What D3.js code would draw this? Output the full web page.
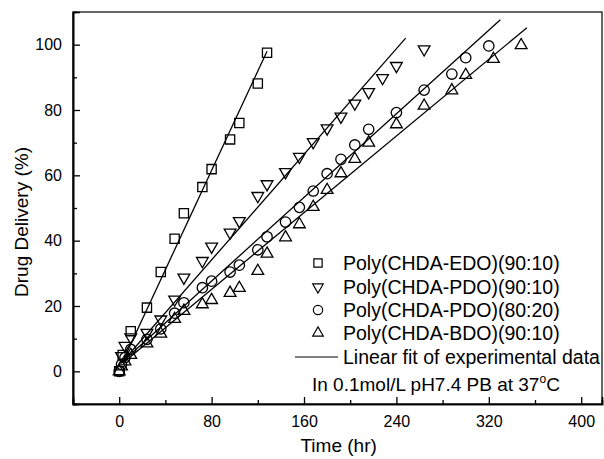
<!DOCTYPE html>
<html>
<head>
<meta charset="utf-8">
<script src="https://d3js.org/d3.v7.min.js"></script>
<style>
  body { margin: 0; background: #fff; }
  svg text { font-family: "Liberation Sans", Arial, sans-serif; fill: #000; }
</style>
</head>
<body>
<div id="chart"></div>
<script>
// ---- data ----
var timeEDO = [0, 3, 10, 24, 36, 48, 56, 72, 80, 96, 104, 120, 128];
var valEDO  = [0, 5, 12.3, 19.5, 30.4, 40.6, 48.4, 56.4, 61.9, 71, 76, 88.1, 97.5];

var timePDO90 = [2, 5, 10, 24, 36, 48, 56, 72, 80, 96, 104, 120, 128, 144, 156, 168, 180, 192, 204, 216, 228, 240, 264];
var valPDO90  = [4.7, 7.8, 10.4, 11.8, 15.9, 22, 28.7, 33.8, 38.2, 42.5, 46, 53.7, 57.3, 61, 65.7, 70.2, 74.4, 78, 82, 85.5, 89.8, 93.5, 98.6];

var timePDO80 = [0, 2, 5, 10, 24, 36, 48, 56, 72, 80, 96, 104, 120, 128, 144, 156, 168, 180, 192, 204, 216, 240, 264, 288, 300, 320];
var valPDO80  = [0, 2.1, 4.2, 6.7, 9.8, 13, 17.8, 21, 25.6, 27.6, 30.4, 32.5, 37.2, 41.2, 45.7, 50.2, 55.2, 60.5, 64.9, 69.3, 74.1, 79.2, 86.1, 91, 96, 99.6];

var timeBDO = [0, 2, 5, 10, 24, 36, 48, 56, 72, 80, 96, 104, 120, 128, 144, 156, 168, 180, 192, 204, 216, 240, 264, 288, 300, 324, 348];
var valBDO  = [0, 1.5, 3, 5, 8.5, 11.5, 16, 18.5, 20.5, 21.8, 24, 25.5, 30.7, 36, 41, 45, 50.3, 55.5, 60.6, 65, 70, 75.6, 81.3, 86, 90.7, 95.6, 99.8];

// linear fits, start and end points
var fitEDO   = [[3, 3], [128, 98]];
var fitPDO90 = [[3, 3], [248, 102]];
var fitPDO80 = [[3, 3], [330, 107.6]];
var fitBDO   = [[3, 2.5], [353, 105.2]];

var seriesNames = ["Poly(CHDA-EDO)(90:10)", "Poly(CHDA-PDO)(90:10)", "Poly(CHDA-PDO)(80:20)", "Poly(CHDA-BDO)(90:10)"];
var xTicks = [0, 80, 160, 240, 320, 400];
var yTicks = [0, 20, 40, 60, 80, 100];

var W = 604, H = 459;
var svg = d3.select("#chart").append("svg")
    .attr("width", W)
    .attr("height", H);

var x = d3.scaleLinear().domain([-40, 418]).range([73, 602]);
var y = d3.scaleLinear().domain([-10, 110]).range([404, 12]);

// frame
svg.append("rect")
    .attr("x", x(-40)).attr("y", y(110))
    .attr("width", x(418) - x(-40)).attr("height", y(-10) - y(110))
    .attr("fill", "none").attr("stroke", "#000").attr("stroke-width", 1.2);

// axes with inward ticks
var xMinor = d3.range(-40, 418, 40).filter(function(d){ return xTicks.indexOf(d) < 0; });
var yMinor = d3.range(-10, 110, 10).filter(function(d){ return yTicks.indexOf(d) < 0; });

svg.append("g").attr("transform", "translate(0," + y(-10) + ")")
    .call(d3.axisBottom(x).tickValues(xTicks).tickSize(-7).tickPadding(12).tickFormat(d3.format("d")));
svg.append("g").attr("transform", "translate(" + x(-40) + ",0)")
    .call(d3.axisLeft(y).tickValues(yTicks).tickSize(-7).tickPadding(11).tickFormat(d3.format("d")));

svg.append("g").attr("transform", "translate(0," + y(-10) + ")")
    .call(d3.axisBottom(x).tickValues(xMinor).tickSize(-4).tickFormat(""));
svg.append("g").attr("transform", "translate(" + x(-40) + ",0)")
    .call(d3.axisLeft(y).tickValues(yMinor).tickSize(-4).tickFormat(""));

svg.selectAll(".domain").attr("stroke-width", 1.6);
svg.selectAll(".tick line").attr("stroke-width", 1.3);
svg.selectAll(".tick text").attr("font-size", "16px")
    .style("font-family", "'Liberation Sans', Arial, sans-serif");

// axis titles
svg.append("text")
    .attr("x", x(190))
    .attr("y", 452)
    .attr("text-anchor", "middle")
    .attr("font-size", "19px")
    .text("Time (hr)");

svg.append("text")
    .attr("transform", "translate(28," + 222 + ") rotate(-90)")
    .attr("text-anchor", "middle")
    .attr("font-size", "19px")
    .text("Drug Delivery (%)");

// fit lines
var line = d3.line()
    .x(function(d){ return x(d[0]); })
    .y(function(d){ return y(d[1]); });

[fitEDO, fitPDO90, fitPDO80, fitBDO].forEach(function(f){
    svg.append("path")
        .attr("d", line(f))
        .attr("fill", "none")
        .attr("stroke", "#000")
        .attr("stroke-width", 1.3);
});

// markers
var shapes = [
    { type: d3.symbolSquare, size: 85, rot: 0 },
    { type: d3.symbolTriangle, size: 60, rot: 180 },
    { type: d3.symbolCircle, size: 85, rot: 0 },
    { type: d3.symbolTriangle, size: 60, rot: 0 }
];

function drawSeries(times, vals, shape){
    var pts = times.map(function(t, i){ return { t: t, v: vals[i] }; });
    svg.append("g").selectAll("path")
        .data(pts)
        .enter().append("path")
        .attr("d", d3.symbol().type(shape.type).size(shape.size))
        .attr("transform", function(d){
            return "translate(" + x(d.t) + "," + y(d.v) + ") rotate(" + shape.rot + ")";
        })
        .attr("fill", "none")
        .attr("stroke", "#000")
        .attr("stroke-width", 1.3);
}

drawSeries(timeEDO, valEDO, shapes[0]);
drawSeries(timePDO90, valPDO90, shapes[1]);
drawSeries(timePDO80, valPDO80, shapes[2]);
drawSeries(timeBDO, valBDO, shapes[3]);

// legend
var legend = svg.append("g");
var rowY = [263, 287, 310, 333];
seriesNames.forEach(function(name, i){
    legend.append("path")
        .attr("d", d3.symbol().type(shapes[i].type).size(shapes[i].size * 0.8))
        .attr("transform", "translate(318," + rowY[i] + ") rotate(" + shapes[i].rot + ")")
        .attr("fill", "none")
        .attr("stroke", "#000")
        .attr("stroke-width", 1.2);
    legend.append("text")
        .attr("x", 343)
        .attr("y", rowY[i])
        .attr("dy", "0.36em")
        .attr("font-size", "19.5px")
        .text(name);
});
legend.append("line")
    .attr("x1", 295).attr("x2", 338)
    .attr("y1", 357).attr("y2", 357)
    .attr("stroke", "#000").attr("stroke-width", 1.2);
legend.append("text")
    .attr("x", 343).attr("y", 357).attr("dy", "0.36em")
    .attr("font-size", "19.5px")
    .text("Linear fit of experimental data");

var note = svg.append("text")
    .attr("x", 312).attr("y", 384).attr("dy", "0.36em")
    .attr("font-size", "19px");
note.append("tspan").text("In 0.1mol/L pH7.4 PB at 37");
note.append("tspan").attr("font-size", "12px").attr("dy", "-8").text("o");
note.append("tspan").attr("dy", "8").text("C");
</script>
</body>
</html>
